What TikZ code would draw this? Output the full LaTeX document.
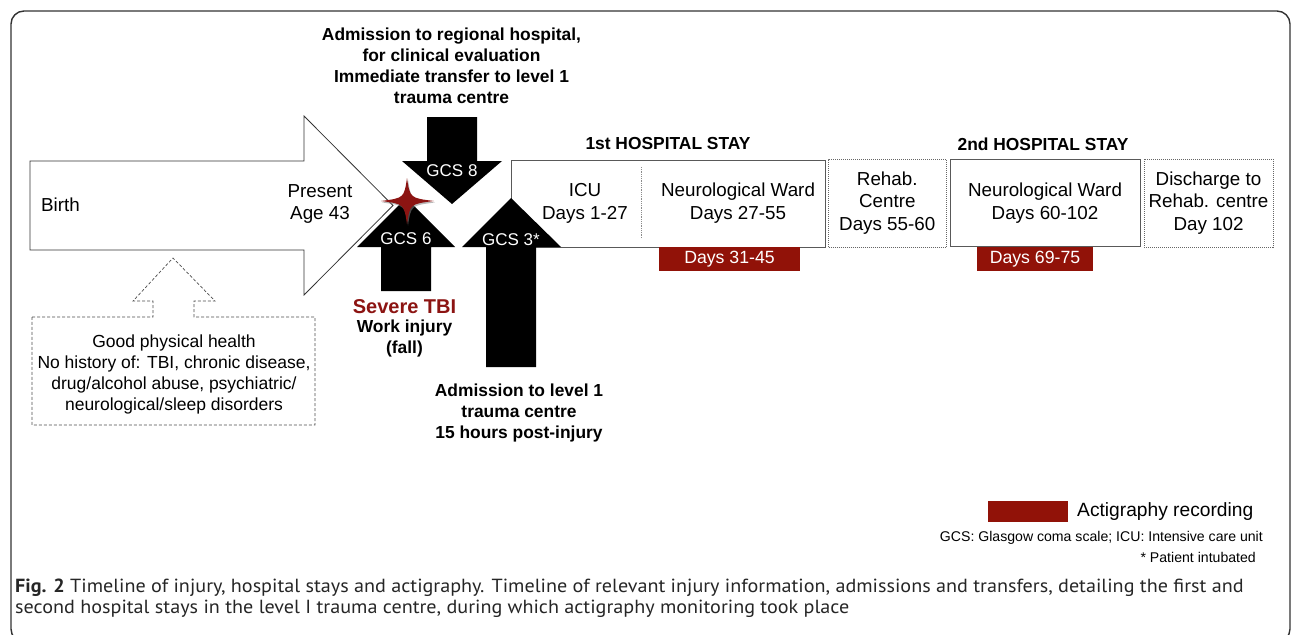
\documentclass[tikz,border=0pt]{standalone}
\usepackage{fontspec}
\setmainfont{Liberation Sans}
\newfontfamily\capfont[FakeStretch=1.06]{PT Sans}
\usetikzlibrary{positioning,shadows}
\definecolor{tbired}{RGB}{140,20,18}
\definecolor{actired}{RGB}{145,18,8}
\definecolor{framegray}{RGB}{50,50,50}
\tikzset{block arrow/.style={draw=black!80,line width=0.8pt,fill=white}}
\tikzset{health arrow/.style={draw=black!70,densely dashed,line width=0.7pt}}
\tikzset{gcs arrow/.style={fill=black}}
\tikzset{gcs label/.style={text=white,inner sep=0pt,font=\fontsize{17}{20}\selectfont}}
\tikzset{stay box/.style={draw=black!65,line width=0.9pt,minimum height=87pt,inner sep=0pt}}
\tikzset{dotted box/.style={draw=black!60,densely dotted,line width=1pt,minimum height=88pt,inner sep=0pt,align=center,font=\fontsize{18.8}{22.5}\selectfont}}
\tikzset{box text/.style={align=center,inner sep=0pt,font=\fontsize{18.8}{23}\selectfont}}
\tikzset{bold note/.style={align=center,inner sep=0pt,font=\bfseries\fontsize{17.4}{21}\selectfont}}
\tikzset{acti bar/.style={fill=actired,text=white,inner sep=0pt,font=\fontsize{17.7}{20}\selectfont}}

\begin{document}
\begin{tikzpicture}[x=1pt,y=-1pt]
\useasboundingbox (0,0) rectangle (1292,634);
\draw[framegray,line width=1.4pt,rounded corners=13pt] (11,11) rectangle (1290,642);

\draw[block arrow] (30,161) -- (304,161) -- (304,116) -- (393,205.5) -- (304,295) -- (304,250) -- (30,250) -- cycle;
\draw[health arrow] (32,317) -- (153,317) -- (153,301) -- (133,301) -- (173,258) -- (215,301) -- (194,301) -- (194,317) -- (315,317) -- (315,425) -- (32,425) -- cycle;

\node[stay box,minimum width=314pt] (stay1) at (668,203.5) {};
\draw[black!45,densely dotted,line width=0.8pt] (641,167) -- (641,238);
\node[dotted box,minimum width=117.5pt] (rehab) at (887.25,203) {Rehab.\\Centre\\Days 55-60};
\node[stay box,minimum width=190pt] (stay2) at (1045,203) {};
\node[dotted box,minimum width=129pt] (discharge) at (1208.5,203) {Discharge to\\Rehab. centre\\Day 102};
\node[acti bar,minimum width=141pt,minimum height=24pt] (bar1) at (729.5,259) {Days 31-45};
\node[acti bar,minimum width=116pt,minimum height=24pt] (bar2) at (1035,259) {Days 69-75};

\fill[gcs arrow] (427,117) -- (477,117) -- (477,161) -- (502,161) -- (452,204) -- (402,161) -- (427,161) -- cycle;
\fill[gcs arrow] (381,291) -- (381,247) -- (357,247) -- (406,198) -- (455,247) -- (431,247) -- (431,291) -- cycle;
\fill[gcs arrow] (486,367) -- (486,247) -- (462,247) -- (511,198) -- (561,247) -- (536,247) -- (536,367) -- cycle;
\fill[tbired,drop shadow={opacity=0.55,shadow xshift=1pt,shadow yshift=-1.5pt}] (407,178) .. controls (410,198) .. (434,201) .. controls (410,204) .. (407,224) .. controls (404,204) .. (381,201) .. controls (404,198) .. (407,178) -- cycle;

\node[gcs label] (gcs8) at (452,171) {GCS 8};
\node[gcs label] (gcs6) at (406,239) {GCS 6};
\node[gcs label] (gcs3) at (511,240) {GCS 3*};

\node[box text,anchor=west] (birth) at (41,205) {Birth};
\node[box text,font=\fontsize{18.8}{22.5}\selectfont] (present) at (320,204) {Present\\Age 43};
\node[box text] (icu) at (585,203) {ICU\\Days 1-27};
\node[box text] (neuro1) at (738,203) {Neurological Ward\\Days 27-55};
\node[box text] (neuro2) at (1045,203) {Neurological Ward\\Days 60-102};
\node[bold note] (head1) at (668,144) {1st HOSPITAL STAY};
\node[bold note] (head2) at (1043,144) {2nd HOSPITAL STAY};

\node[bold note] (regional) at (451.5,66) {Admission to regional hospital,\\for clinical evaluation\\Immediate transfer to level 1\\trauma centre};
\node[bold note,text=tbired,font=\bfseries\fontsize{20}{22}\selectfont] (tbi) at (404.5,307) {Severe TBI};
\node[bold note,below=5pt of tbi] (work) {Work injury\\(fall)};
\node[bold note] (level1) at (519,413) {Admission to level 1\\trauma centre\\15 hours post-injury};
\node[box text,font=\fontsize{17.5}{20.7}\selectfont] (health) at (174,374.5) {Good physical health\\No history of: TBI, chronic disease,\\drug/alcohol abuse, psychiatric/\\neurological/sleep disorders};

\node[acti bar,minimum width=80pt,minimum height=21pt] (legendbar) at (1028,511.5) {};
\node[box text,anchor=west,font=\fontsize{19.2}{22}\selectfont] (legendtext) at (1077,512) {Actigraphy recording};
\node[box text,anchor=east,font=\fontsize{14.1}{17}\selectfont] (abbrev) at (1263,538) {GCS: Glasgow coma scale; ICU: Intensive care unit};
\node[box text,anchor=east,font=\fontsize{14.1}{17}\selectfont] (intub) at (1256,557) {* Patient intubated};

\node[anchor=north west,align=left,inner sep=0pt,text=black!85,font=\capfont\fontsize{19}{20.5}\selectfont] (caption) at (15,579) {{\bfseries Fig. 2} Timeline of injury, hospital stays and actigraphy. Timeline of relevant injury information, admissions and transfers, detailing the first and\\second hospital stays in the level I trauma centre, during which actigraphy monitoring took place};
\end{tikzpicture}
\end{document}
